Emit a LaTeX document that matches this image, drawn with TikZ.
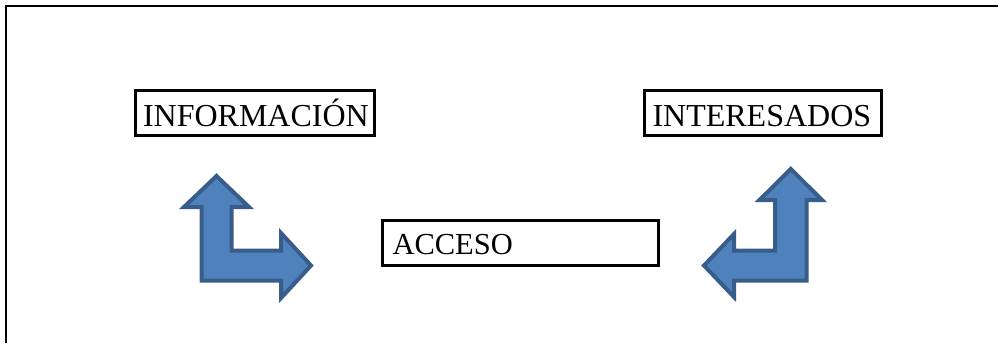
\documentclass[tikz,border=0pt]{standalone}
\usepackage{fontspec}
\setmainfont{Liberation Serif}
\definecolor{arrfill}{HTML}{4F81BD}
\definecolor{arrline}{HTML}{385D8A}
\begin{document}
\begin{tikzpicture}[x=1pt,y=-1pt,
  frame/.style={line width=2.5pt},
  box/.style={draw=black, line width=3pt, anchor=north west, inner ysep=0pt, inner xsep=7pt,
     align=left, text height=36pt, text depth=9pt, font=\fontsize{32}{36}\selectfont},
  bent/.style={fill=arrfill, draw=arrline, line width=4pt, line join=miter}]
\useasboundingbox (0,0) rectangle (998,343);
\draw[frame] (6,343) -- (6,6) -- (998,6);
\node[box, text width=224pt, inner xsep=7.5pt] (info) at (134,88.5) {INFORMACIÓN};
\node[box, text width=221pt, inner xsep=8pt] (inter) at (643,88.5) {INTERESADOS};
\node[box, text width=256pt, inner xsep=10pt, text height=34pt, text depth=10.5pt,
  font=\fontsize{30.5}{34}\selectfont] (acc) at (381,219) {ACCESO};
% left bent arrow (up and right)
\draw[bent] (216.5,176) -- (249,207) -- (231.5,207) -- (231.5,250.5) -- (281,250.5) -- (281,233)
  -- (311,265.5) -- (281,298) -- (281,280.5) -- (201.5,280.5) -- (201.5,207) -- (184,207) -- cycle;
% right bent arrow (up and left)
\draw[bent] (790.8,169) -- (822,200) -- (806.5,200) -- (806.5,280.5) -- (734,280.5) -- (734,297)
  -- (704,265.5) -- (734,234) -- (734,250.5) -- (775,250.5) -- (775,200) -- (759.5,200) -- cycle;
\end{tikzpicture}
\end{document}
